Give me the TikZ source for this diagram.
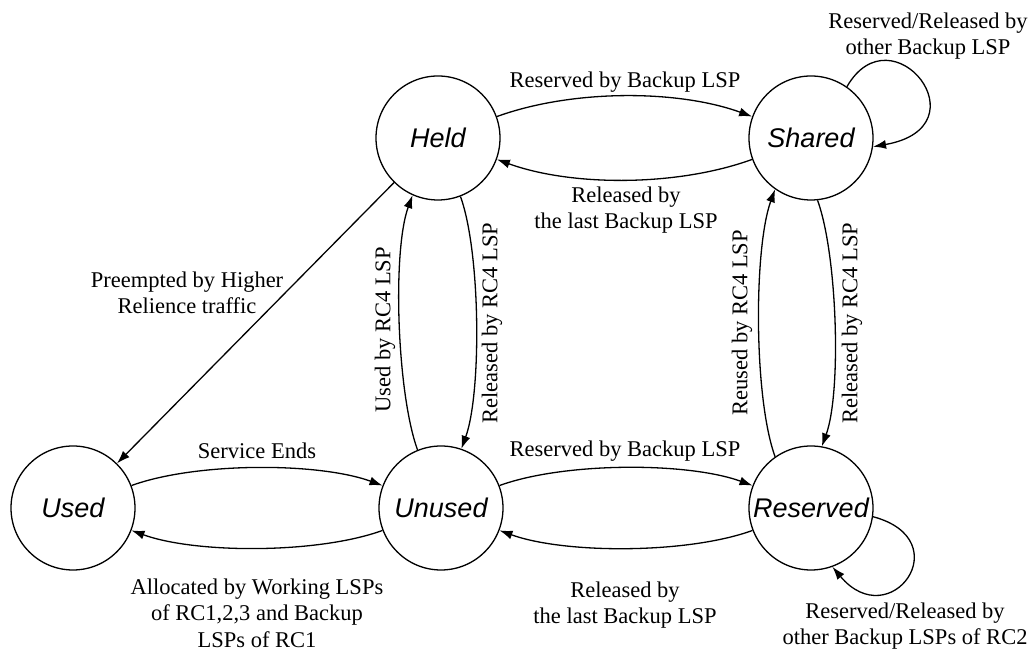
\documentclass[tikz,border=0pt]{standalone}
\usepackage{fontspec}
\setmainfont{Liberation Serif}
\newfontfamily\statefont{Liberation Sans}
\usetikzlibrary{arrows.meta}

\begin{document}
\begin{tikzpicture}[x=1pt, y=1pt,
  state/.style={circle, draw, line width=1.3pt, minimum size=124pt, inner sep=0pt,
    font=\statefont\itshape\fontsize{27}{30}\selectfont},
  trans/.style={line width=1.3pt, -{Latex[length=13pt, width=9pt]}},
  lbl/.style={font=\fontsize{22.5}{26.5}\selectfont, align=center, inner sep=0pt}]

\useasboundingbox (0,0) rectangle (1034,652);

% States
\node[state] (used) at (73,144) {Used};
\node[state] (unused) at (441,144) {Unused};
\node[state] (reserved) at (811,144) {Reserved};
\node[state] (held) at (438,514) {Held};
\node[state] (shared) at (811,514) {Shared};

% Held <-> Shared
\draw[trans] (held.20) to[out=20, in=160, looseness=0.8] (shared.160);
\draw[trans] (shared.200) to[out=200, in=-20, looseness=0.8] (held.-20);
\node[lbl] (heldsharedlbl) at (625,570) {Reserved by Backup LSP};
\node[lbl] (sharedheldlbl) at (626,442) {Released by\\the last Backup LSP};

% Shared self loop
\draw[trans] (shared.55) .. controls +(60:90) and +(10:115) .. (shared.-8);
\node[lbl] (sharedlooplbl) at (928,616) {Reserved/Released by\\other Backup LSP};

% Held <-> Unused
\draw[trans] (unused.112) to[out=110, in=-110, looseness=0.6] (held.246);
\draw[trans] (held.-69) to[out=-70, in=70, looseness=0.6] (unused.71);
\node[lbl, rotate=90] (unusedheldlbl) at (385,322) {Used by RC4 LSP};
\node[lbl, rotate=90] (heldunusedlbl) at (492,329) {Released by RC4 LSP};

% Shared <-> Reserved
\draw[trans] (reserved.125) to[out=110, in=-110, looseness=0.6] (shared.235);
\draw[trans] (shared.-84) to[out=-70, in=70, looseness=0.6] (reserved.80);
\node[lbl, rotate=90] (reservedsharedlbl) at (742,329) {Reused by RC4 LSP};
\node[lbl, rotate=90] (sharedreservedlbl) at (852,329) {Released by RC4 LSP};

% Held -> Used
\draw[trans] (held) -- (used);
\node[lbl] (heldusedlbl) at (187,359) {Preempted by Higher\\Relience traffic};

% Used <-> Unused
\draw[trans] (used.21) to[out=20, in=160, looseness=0.7] (unused.159);
\draw[trans] (unused.201) to[out=200, in=-20, looseness=0.7] (used.-21);
\node[lbl] (usedunusedlbl) at (257,201) {Service Ends};
\node[lbl] (unusedusedlbl) at (257,39) {Allocated by Working LSPs\\of RC1,2,3 and Backup\\LSPs of RC1};

% Unused <-> Reserved
\draw[trans] (unused.21) to[out=20, in=160, looseness=0.7] (reserved.159);
\draw[trans] (reserved.201) to[out=200, in=-20, looseness=0.7] (unused.-21);
\node[lbl] (unusedreservedlbl) at (625,201) {Reserved by Backup LSP};
\node[lbl] (reservedunusedlbl) at (625,47) {Released by\\the last Backup LSP};

% Reserved self loop
\draw[trans] (reserved.-8) .. controls +(-15:90) and +(-50:90) .. (reserved.-70);
\node[lbl] (reservedlooplbl) at (905,26) {Reserved/Released by\\other Backup LSPs of RC2};

\end{tikzpicture}
\end{document}
